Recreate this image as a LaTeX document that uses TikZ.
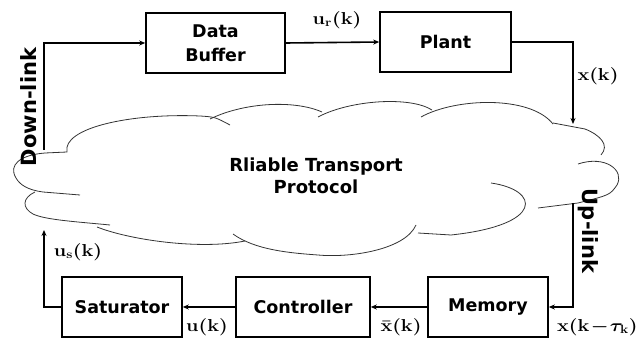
\documentclass[tikz,border=0pt]{standalone}
\usepackage{fontspec}
\usepackage{graphicx}
\usetikzlibrary{arrows.meta}
\newfontfamily\dv{DejaVu Sans}
\tikzset{
  blk/.style={draw, line width=1.6pt, minimum height=60pt, inner sep=0pt, align=center,
    font=\dv\bfseries\fontsize{17.5}{23.5}\selectfont},
  conn/.style={line width=1.6pt, -{Stealth[length=6pt,width=5pt]}},
  cloudline/.style={line width=0.8pt, draw=black!80},
  lab/.style={inner sep=0pt, font=\fontsize{17}{19}\selectfont\boldmath},
  link/.style={inner sep=0pt, font=\dv\bfseries\fontsize{21}{24}\selectfont},
}
\newcommand{\ml}[1]{\scalebox{1.15}[1]{$#1$}}
\begin{document}
\begin{tikzpicture}[x=1pt,y=-1pt]
\useasboundingbox (0,0) rectangle (638,339);
% boxes
\node[blk, minimum width=139pt] (buf) at (215.5,43) {Data\\Buffer};
\node[blk, minimum width=131pt] (plant) at (445.5,42) {Plant};
\node[blk, minimum width=120pt] (sat) at (122,307) {Saturator};
\node[blk, minimum width=134pt] (ctrl) at (303,307) {Controller};
\node[blk, minimum width=120pt] (mem) at (488,307) {Memory};
% cloud
\draw[cloudline] (45,153) -- (67,152) .. controls (62,128) and (130,113) .. (200,116) .. controls (215,117) .. (230,125);
\draw[cloudline] (210,119) .. controls (245,102) and (295,100) .. (322,112);
\draw[cloudline] (318,117) .. controls (350,100) and (410,96) .. (432,110);
\draw[cloudline] (421,117) .. controls (455,98) and (530,95) .. (553,124);
\draw[cloudline] (553,123) -- (585,129) .. controls (600,135) and (610,145) .. (601,155);
\draw[cloudline] (578,164) .. controls (605,155) and (625,170) .. (617,185) .. controls (610,195) .. (578,203) -- (538,208);
\draw[cloudline] (491,183) .. controls (540,190) and (545,225) .. (451,235) -- (418,233);
\draw[cloudline] (416,225) .. controls (405,250) and (350,258) .. (318,255) .. controls (290,253) and (255,250) .. (233,234);
\draw[cloudline] (245,241) .. controls (200,250) and (130,240) .. (97,227);
\draw[cloudline] (110,225) .. controls (80,222) and (45,220) .. (33,214) .. controls (22,208) and (22,198) .. (35,192);
\draw[cloudline] (80,195) -- (43,192) .. controls (28,190) and (20,185) .. (16,178) .. controls (8,165) and (20,155) .. (45,153);
\node[align=center, inner sep=0pt, font=\dv\bfseries\fontsize{18}{22}\selectfont] (rtp) at (316,176) {Rliable Transport\\Protocol};
% connector end points
\coordinate (dls) at (44,150);
\coordinate (xke) at (573,124);
\coordinate (uls) at (573,203);
\coordinate (use) at (44,230);
% connectors
\draw[conn] (dls) |- (buf.west);
\draw[conn] (buf.east) -- (plant.west);
\draw[conn] (plant.east) -| (xke);
\draw[conn] (uls) |- (mem.east);
\draw[conn] (mem.west) -- (ctrl.east);
\draw[conn] (ctrl.west) -- (sat.east);
\draw[conn] (sat.west) -| (use);
% labels
\node[lab] (lur) at (337,20) {\ml{\mathbf{u}_{\mathbf{r}}(\mathbf{k})}};
\node[lab] (lxk) at (598,76) {\ml{\mathbf{x}(\mathbf{k})}};
\node[lab] (lus) at (78,252) {\ml{\mathbf{u}_{\mathbf{s}}(\mathbf{k})}};
\node[lab] (luk) at (207,327) {\ml{\mathbf{u}(\mathbf{k})}};
\node[lab] (lxb) at (401,327) {\ml{\bar{\mathbf{x}}(\mathbf{k})}};
\node[lab, anchor=west] (lxt) at (557,327) {\ml{\mathbf{x}(\mathbf{k}\!-\!\tau_{\mathbf{k}})}};
\node[link, rotate=90] (down) at (29,107) {Down-link};
\node[link, rotate=-90] (up) at (588,231) {Up-link};
\end{tikzpicture}
\end{document}
